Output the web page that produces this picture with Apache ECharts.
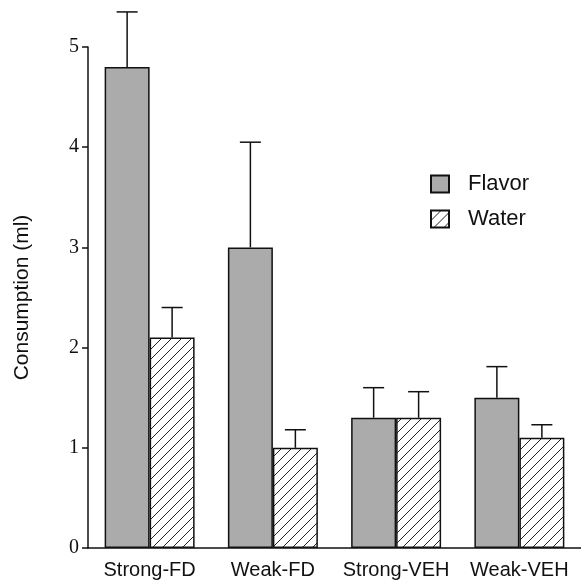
<!DOCTYPE html>
<html>
<head>
<meta charset="utf-8">
<script src="https://cdn.jsdelivr.net/npm/echarts@6/dist/echarts.min.js"></script>
<style>
html,body{margin:0;padding:0;background:#fff;}
#chart{width:581px;height:582px;}
</style>
</head>
<body>
<div id="chart"></div>
<script>
const categories = ['Strong-FD', 'Weak-FD', 'Strong-VEH', 'Weak-VEH'];
const flavorValues = [4.8, 3.0, 1.3, 1.5];
const flavorErrors = [0.55, 1.05, 0.30, 0.31];
const waterValues = [2.1, 1.0, 1.3, 1.1];
const waterErrors = [0.30, 0.18, 0.26, 0.13];
const yTicks = [0, 1, 2, 3, 4, 5];

// hatch pattern
const pc = document.createElement('canvas');
pc.width = 10; pc.height = 10;
const ctx = pc.getContext('2d');
ctx.fillStyle = '#ffffff';
ctx.fillRect(0, 0, 10, 10);
ctx.strokeStyle = '#222222';
ctx.lineWidth = 1;
ctx.beginPath();
ctx.moveTo(0, 10); ctx.lineTo(10, 0);
ctx.moveTo(-5, 5); ctx.lineTo(5, -5);
ctx.moveTo(5, 15); ctx.lineTo(15, 5);
ctx.stroke();

const errData = [];
flavorValues.forEach((v, i) => errData.push([i, v, flavorErrors[i], 0]));
waterValues.forEach((v, i) => errData.push([i, v, waterErrors[i], 1]));

const chart = echarts.init(document.getElementById('chart'), null, {renderer: 'canvas'});
const catGap = 0.27;
chart.setOption({
  animation: false,
  backgroundColor: '#ffffff',
  grid: {left: 88, right: 0, top: 47, bottom: 34, containLabel: false},
  legend: {
    data: ['Flavor', 'Water'],
    orient: 'vertical',
    left: 425,
    top: 168,
    itemWidth: 18,
    itemHeight: 17,
    itemGap: 13,
    icon: 'rect',
    textStyle: {fontFamily: 'Liberation Sans', fontSize: 22, color: '#111', padding: [0, 0, 0, 14], lineHeight: 22}
  },
  xAxis: {
    type: 'category',
    data: categories,
    axisLine: {lineStyle: {color: '#111', width: 1.5}},
    axisTick: {show: false},
    axisLabel: {interval: 0, fontFamily: 'Liberation Sans', fontSize: 20, color: '#111', margin: 12}
  },
  yAxis: {
    type: 'value',
    min: yTicks[0],
    max: yTicks[yTicks.length - 1],
    interval: 1,
    name: 'Consumption (ml)',
    nameLocation: 'middle',
    nameGap: 55,
    nameTextStyle: {fontFamily: 'Liberation Sans', fontSize: 21, color: '#111'},
    axisLine: {show: true, lineStyle: {color: '#111', width: 1.5}},
    axisTick: {show: true, inside: false, length: 6, lineStyle: {color: '#111', width: 1.5}},
    axisLabel: {fontFamily: 'Liberation Serif', fontSize: 20, color: '#111', margin: 9},
    splitLine: {show: false}
  },
  series: [
    {
      name: 'Flavor',
      type: 'bar',
      data: flavorValues,
      barGap: '0%',
      barCategoryGap: (catGap * 100) + '%',
      itemStyle: {color: '#ababab', borderColor: '#111', borderWidth: 1.5}
    },
    {
      name: 'Water',
      type: 'bar',
      data: waterValues,
      itemStyle: {color: {image: pc, repeat: 'repeat'}, borderColor: '#111', borderWidth: 1.5}
    },
    {
      name: 'errors',
      type: 'custom',
      clip: false,
      z: 5,
      data: errData,
      encode: {x: 0, y: 1},
      renderItem: function (params, api) {
        const xi = api.value(0);
        const v = api.value(1);
        const e = api.value(2);
        const side = api.value(3);
        const base = api.coord([xi, v]);
        const top = api.coord([xi, v + e]);
        const band = api.size([1, 0])[0];
        const bw = band * (1 - catGap) / 2;
        const cx = base[0] + (side === 0 ? -bw / 2 : bw / 2);
        const half = 10.5;
        const st = {stroke: '#111', lineWidth: 1.5};
        return {
          type: 'group',
          children: [
            {type: 'line', shape: {x1: cx, y1: base[1], x2: cx, y2: top[1]}, style: st},
            {type: 'line', shape: {x1: cx - half, y1: top[1], x2: cx + half, y2: top[1]}, style: st}
          ]
        };
      }
    }
  ]
});
</script>
</body>
</html>
